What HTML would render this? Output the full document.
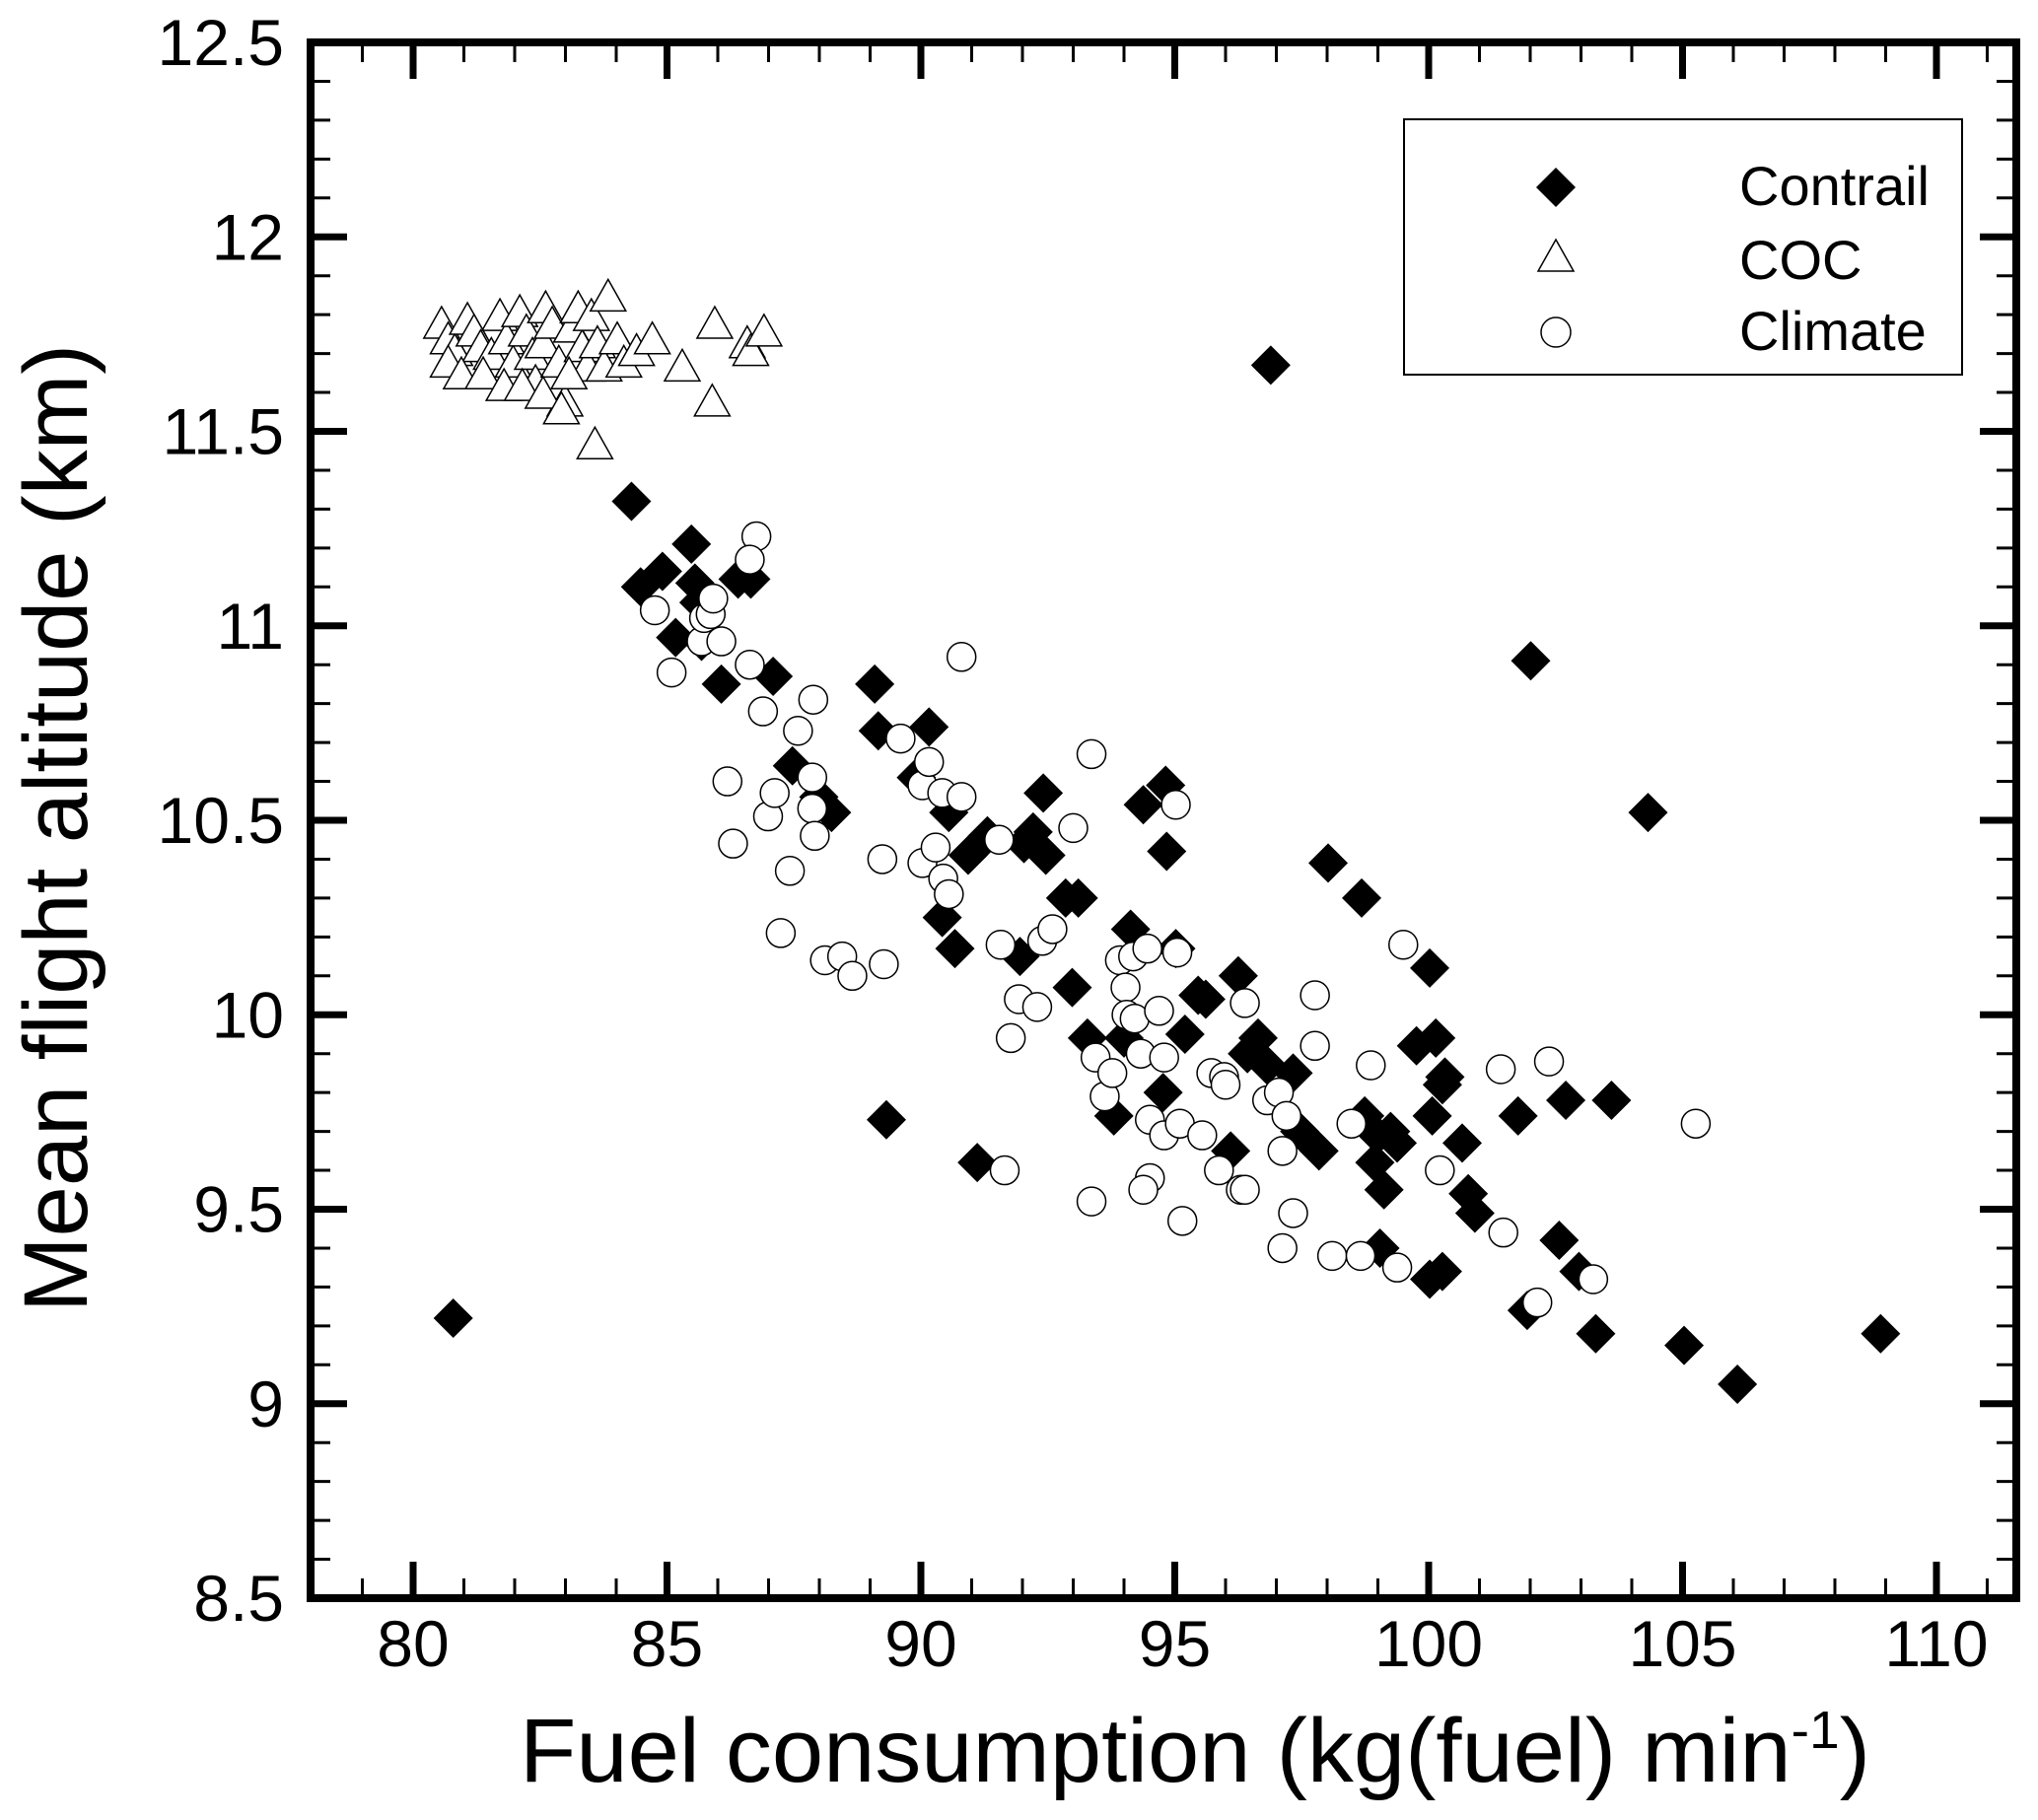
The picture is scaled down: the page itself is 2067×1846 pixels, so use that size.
<!DOCTYPE html>
<html><head><meta charset="utf-8"><style>
html,body{margin:0;padding:0;background:#fff;}
svg{display:block;}
text{font-family:"Liberation Sans",Arial,sans-serif;fill:#000;}
</style></head><body>
<svg id="chart" width="2067" height="1846" viewBox="0 0 2067 1846" xmlns="http://www.w3.org/2000/svg">
<g id="ticks"></g>
<g id="marks"></g>
<rect x="315" y="43" width="1730" height="1578" fill="none" stroke="#000" stroke-width="8"/>
<g id="labels"></g>
<text x="527" y="1807" font-size="92" textLength="1370" lengthAdjust="spacingAndGlyphs">Fuel consumption (kg(fuel) min<tspan dy="-34" font-size="54">-1</tspan><tspan dy="34">)</tspan></text>
<text transform="translate(88,840) rotate(-90)" text-anchor="middle" font-size="92" textLength="982" lengthAdjust="spacingAndGlyphs">Mean flight altitude (km)</text>
<g>
<rect x="1424" y="121" width="566" height="259" fill="#fff" stroke="#000" stroke-width="2"/>
<polygon points="1578,170 1598,190 1578,210 1558,190" fill="#000"/>
<text x="1764" y="208" font-size="56">Contrail</text>
<polygon points="1578,243 1596,275 1560,275" fill="#fff" stroke="#000" stroke-width="1.5"/>
<text x="1764" y="283" font-size="56">COC</text>
<circle cx="1578" cy="337" r="15" fill="#fff" stroke="#000" stroke-width="1.5"/>
<text x="1764" y="355" font-size="56">Climate</text>
</g>
</svg>
<script>
const xTicks=[80,85,90,95,100,105,110];
const yTicks=[8.5,9,9.5,10,10.5,11,11.5,12,12.5];
const yTickLabels=["8.5","9","9.5","10","10.5","11","11.5","12","12.5"];
const cocX=[80.56,80.69,80.82,81.07,81.20,81.33,81.54,81.71,81.84,81.97,82.10,82.23,82.35,82.41,82.56,82.61,82.74,82.87,82.99,83.12,83.25,83.33,83.43,83.51,83.63,83.76,83.84,84.02,84.15,84.40,84.71,85.30,85.94,85.89,86.58,86.65,86.91,83.58,80.69,80.95,81.38,81.79,82.15,82.56,82.92,83.07];
const cocY=[11.77,11.73,11.70,11.78,11.75,11.71,11.69,11.79,11.73,11.67,11.80,11.75,11.69,11.62,11.72,11.81,11.77,11.67,11.57,11.76,11.81,11.71,11.66,11.79,11.72,11.66,11.84,11.73,11.67,11.70,11.73,11.66,11.77,11.57,11.72,11.70,11.75,11.46,11.67,11.64,11.64,11.61,11.61,11.59,11.55,11.64];
const climX=[84.76,85.09,85.68,85.73,85.86,85.91,86.07,86.76,86.63,86.63,86.89,87.58,87.88,86.19,86.30,86.99,87.12,87.86,87.86,87.91,87.42,87.24,88.11,88.45,88.65,89.24,89.27,89.60,90.03,90.16,90.42,90.80,90.03,90.29,90.44,90.55,90.80,91.54,91.57,91.93,92.29,92.39,92.59,93.00,93.36,91.77,91.65,93.44,93.62,93.77,93.92,94.03,94.18,94.46,94.05,94.21,94.33,94.51,94.51,94.38,94.69,94.79,94.79,95.02,95.10,95.15,95.54,95.72,95.87,95.97,96.00,96.30,96.38,96.38,96.82,97.05,97.12,97.20,97.33,97.12,97.76,97.76,98.10,98.48,98.66,98.86,99.38,99.50,100.22,101.42,101.47,102.14,102.37,103.24,105.26,93.36,95.05];
const climY=[11.04,10.88,10.96,11.02,11.03,11.07,10.96,11.23,11.17,10.90,10.78,10.73,10.81,10.60,10.44,10.51,10.57,10.61,10.53,10.46,10.37,10.21,10.14,10.15,10.10,10.40,10.13,10.71,10.59,10.65,10.57,10.56,10.39,10.43,10.35,10.31,10.92,10.45,10.18,10.04,10.02,10.19,10.22,10.48,10.67,9.94,9.60,9.89,9.79,9.85,10.14,10.07,10.15,10.17,10.00,9.99,9.90,9.73,9.58,9.55,10.01,9.89,9.69,10.54,9.72,9.47,9.69,9.85,9.60,9.84,9.82,9.55,9.55,10.03,9.78,9.80,9.65,9.74,9.49,9.40,10.05,9.92,9.38,9.72,9.38,9.87,9.35,10.18,9.60,9.86,9.44,9.26,9.88,9.32,9.72,9.52,10.16];
const conX=[80.79,96.89,84.30,84.48,84.91,85.48,85.17,85.63,85.55,85.68,86.07,86.40,86.65,87.09,87.47,87.99,88.24,89.09,89.16,90.16,89.91,90.55,90.42,90.67,90.93,91.31,92.21,92.41,92.03,92.46,91.95,92.98,92.85,93.10,93.28,93.80,94.13,94.38,94.82,94.84,95.02,95.20,95.46,95.61,96.10,96.43,96.64,96.82,97.33,97.46,97.84,98.02,98.68,98.74,98.99,98.94,99.12,99.25,99.38,99.76,100.14,100.27,100.02,100.07,100.32,100.66,100.78,100.91,99.04,100.02,100.27,101.76,102.01,102.57,102.70,102.96,103.29,103.60,104.32,105.03,106.08,108.90,101.94,89.32,91.11,96.25,94.77,94.00];
const conY=[9.22,11.67,11.32,11.10,11.14,11.21,10.97,11.06,11.11,10.96,10.85,11.12,11.12,10.87,10.64,10.56,10.52,10.85,10.73,10.74,10.61,10.52,10.25,10.17,10.41,10.46,10.47,10.57,10.44,10.41,10.15,10.07,10.30,10.30,9.94,9.74,10.22,10.54,10.59,10.42,10.17,9.95,10.05,10.04,9.65,9.90,9.94,9.87,9.85,9.70,9.65,10.39,10.30,9.74,9.69,9.62,9.55,9.70,9.67,9.92,9.94,9.82,10.12,9.74,9.84,9.67,9.54,9.49,9.40,9.32,9.34,9.74,10.91,9.42,9.78,9.34,9.18,9.78,10.52,9.15,9.05,9.18,9.24,9.73,9.62,10.10,9.80,9.94];

const NS="http://www.w3.org/2000/svg";
function X(v){return 419+(v-80)*51.5;}
function Y(v){return 43+(12.5-v)*394.5;}
function mk(tag,attrs,parent){const e=document.createElementNS(NS,tag);for(const k in attrs)e.setAttribute(k,attrs[k]);parent.appendChild(e);return e;}
const ticks=document.getElementById('ticks');
const labels=document.getElementById('labels');
const marks=document.getElementById('marks');
for(let v=78;v<=112;v++){
  const major=v%5===0, L=major?37:20, w=major?7:3, x=X(v);
  if(x<318||x>2042)continue;
  const t1=mk('line',{x1:x,x2:x,y1:1621,y2:1621-L,stroke:'#000','stroke-width':w},ticks);
  
  
  const t2=mk('line',{x1:x,x2:x,y1:43,y2:43+L,stroke:'#000','stroke-width':w},ticks);
  
  
}
for(let i=0;i<=40;i++){
  const v=8.5+i*0.1, major=i%5===0, L=major?37:20, w=major?7:3, y=Y(v);
  if(i===0||i===40)continue;
  const t1=mk('line',{x1:315,x2:315+L,y1:y,y2:y,stroke:'#000','stroke-width':w},ticks);
  
  
  const t2=mk('line',{x1:2045,x2:2045-L,y1:y,y2:y,stroke:'#000','stroke-width':w},ticks);
  
  
}
xTicks.forEach(v=>{
  const t=mk('text',{x:X(v),y:1690,'text-anchor':'middle','font-size':66},labels);
  t.textContent=String(v);
  
  
});
yTicks.forEach((v,i)=>{
  const t=mk('text',{x:288,y:Y(v)+23,'text-anchor':'end','font-size':66},labels);
  t.textContent=yTickLabels[i];
  
  
});
cocX.forEach((v,i)=>{
  const x=X(v),y=Y(cocY[i]);
  const p=mk('polygon',{points:`${x},${y-20} ${x+18},${y+12} ${x-18},${y+12}`,fill:'#fff',stroke:'#000','stroke-width':1.5},marks);
  
  
});
conX.forEach((v,i)=>{
  const x=X(v),y=Y(conY[i]);
  const p=mk('polygon',{points:`${x},${y-20} ${x+20},${y} ${x},${y+20} ${x-20},${y}`,fill:'#000'},marks);
  
  
});
climX.forEach((v,i)=>{
  const c=mk('circle',{cx:X(v),cy:Y(climY[i]),r:14.5,fill:'#fff',stroke:'#000','stroke-width':1.5},marks);
  
  
});
</script>
</body></html>
